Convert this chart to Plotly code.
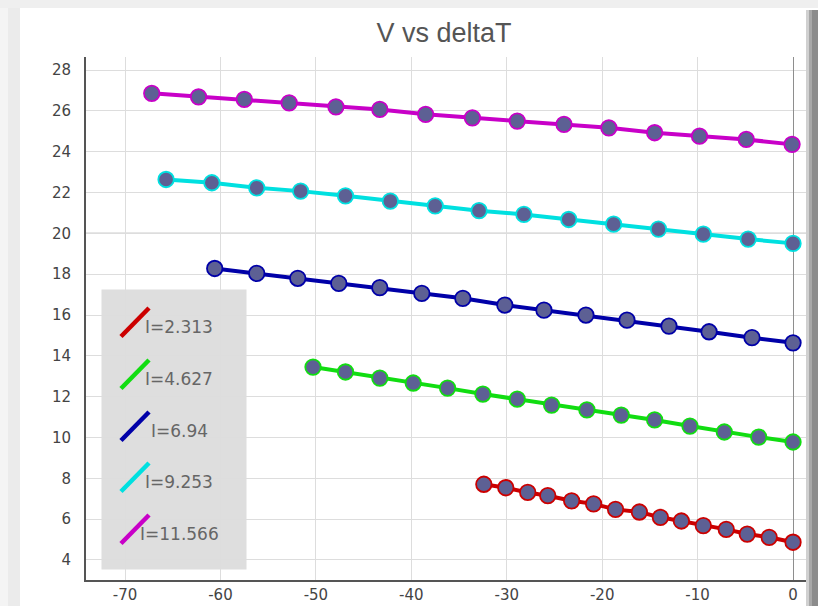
import plotly.graph_objects as go

# ---- data ----
series_names = ["I=2.313", "I=4.627", "I=6.94", "I=9.253", "I=11.566"]
series_colors = ["#cc0000", "#11dd11", "#0000a8", "#00e0e0", "#c800c8"]

x_i2313 = [-32.4, -30.1, -27.8, -25.7, -23.2, -20.9, -18.6, -16.1, -13.9, -11.7, -9.4, -7.0, -4.8, -2.5, 0.0]
v_i2313 = [7.71, 7.54, 7.31, 7.15, 6.90, 6.75, 6.48, 6.35, 6.09, 5.91, 5.68, 5.50, 5.27, 5.11, 4.87]

x_i4627 = [-50.3, -46.9, -43.3, -39.8, -36.2, -32.5, -28.9, -25.3, -21.6, -18.0, -14.5, -10.8, -7.2, -3.6, 0.0]
v_i4627 = [13.45, 13.21, 12.91, 12.67, 12.42, 12.13, 11.88, 11.59, 11.35, 11.10, 10.86, 10.56, 10.27, 10.02, 9.78]

x_i694 = [-60.6, -56.2, -51.9, -47.6, -43.3, -38.9, -34.6, -30.2, -26.1, -21.7, -17.4, -13.0, -8.8, -4.3, 0.0]
v_i694 = [18.28, 18.04, 17.80, 17.55, 17.34, 17.06, 16.82, 16.49, 16.24, 16.00, 15.75, 15.46, 15.18, 14.89, 14.64]

x_i9253 = [-65.7, -60.9, -56.2, -51.6, -46.9, -42.2, -37.5, -32.9, -28.2, -23.5, -18.8, -14.1, -9.4, -4.7, 0.0]
v_i9253 = [22.64, 22.48, 22.23, 22.07, 21.84, 21.58, 21.35, 21.11, 20.93, 20.68, 20.45, 20.21, 19.96, 19.72, 19.51]

x_i11566 = [-67.2, -62.3, -57.5, -52.8, -47.9, -43.3, -38.5, -33.6, -28.9, -24.0, -19.3, -14.5, -9.8, -4.9, -0.1]
v_i11566 = [26.86, 26.69, 26.56, 26.39, 26.20, 26.07, 25.83, 25.66, 25.50, 25.34, 25.17, 24.93, 24.76, 24.60, 24.36]

x_ticks = [-70, -60, -50, -40, -30, -20, -10, 0]
y_ticks = [4, 6, 8, 10, 12, 14, 16, 18, 20, 22, 24, 26, 28]

xs = [x_i2313, x_i4627, x_i694, x_i9253, x_i11566]
vs = [v_i2313, v_i4627, v_i694, v_i9253, v_i11566]

# ---- layout geometry (pixels) ----
W, H = 818, 606
L, R, T, B = 86, 806, 57, 580

def px(p):
    return (p - L) / (R - L)

def py(p):
    return (B - p) / (B - T)

fig = go.Figure()
for name, col, x, v in zip(series_names, series_colors, xs, vs):
    fig.add_trace(go.Scatter(
        x=x, y=v, name=name, mode="lines+markers",
        line=dict(color=col, width=4),
        marker=dict(size=15.5, color="#5d6094", line=dict(color=col, width=1.8)),
        showlegend=False,
    ))

shapes = []
# window frame / shadow
shapes.append(dict(type="rect", xref="paper", yref="paper", x0=px(0), x1=px(8), y0=py(620), y1=py(0),
                   fillcolor="#f4f4f4", line=dict(width=0), layer="below"))
shapes.append(dict(type="rect", xref="paper", yref="paper", x0=px(8), x1=px(20), y0=py(620), y1=py(0),
                   fillcolor="#ebebeb", line=dict(width=0), layer="below"))
shapes.append(dict(type="rect", xref="paper", yref="paper", x0=px(0), x1=px(W), y0=py(8), y1=py(0),
                   fillcolor="#efefef", line=dict(width=0), layer="below"))
for a, b, c in [(806, 809, "#d0d0d0"), (809, 812, "#a8a8a8"), (812, 818, "#8c8c8c")]:
    shapes.append(dict(type="rect", xref="paper", yref="paper", x0=px(a), x1=px(b), y0=py(620), y1=py(10),
                       fillcolor=c, line=dict(width=0), layer="above"))
# highlighted y=20 line
shapes.append(dict(type="line", xref="paper", yref="y", x0=0, x1=1, y0=20, y1=20,
                   line=dict(color="#9a9a9a", width=1.2), layer="between"))
# legend box
shapes.append(dict(type="rect", xref="paper", yref="paper", x0=px(101.5), x1=px(246.5), y0=py(569.5), y1=py(289.5),
                   fillcolor="rgba(185,185,185,0.48)", line=dict(width=0), layer="between"))

legend_y = [322, 374, 426, 477, 529]
annotations = []
for name, col, yc in zip(series_names, series_colors, legend_y):
    shapes.append(dict(type="line", xref="paper", yref="paper",
                       x0=px(121), y0=py(yc + 14.5), x1=px(149), y1=py(yc - 14),
                       line=dict(color=col, width=4.5), layer="above"))
    annotations.append(dict(text=name, xref="paper", yref="paper", x=px(179), y=py(yc + 5),
                            xanchor="center", yanchor="middle", showarrow=False,
                            font=dict(family="DejaVu Sans", size=17, color="#666666")))

fig.update_layout(
    width=W, height=H, autosize=False,
    margin=dict(l=L, r=W - R, t=T, b=H - B, pad=0),
    paper_bgcolor="white", plot_bgcolor="white",
    title=dict(text="V vs deltaT", xref="container", x=444 / W, xanchor="center",
               yref="container", y=1 - 33 / H, yanchor="middle",
               font=dict(family="Liberation Sans", size=27, color="#555555")),
    shapes=shapes, annotations=annotations,
    showlegend=False,
)
fig.update_xaxes(range=[-74.09, 1.36], tickvals=x_ticks, ticktext=[str(t) for t in x_ticks],
                 showgrid=True, gridcolor="#dddddd", gridwidth=1,
                 zeroline=True, zerolinecolor="#8e8e8e", zerolinewidth=1.2,
                 showline=True, linecolor="#555555", linewidth=2, ticks="",
                 ticklabelstandoff=0, automargin=False,
                 tickfont=dict(family="DejaVu Sans", size=15, color="#444444"))
fig.update_yaxes(range=[3.02, 28.64], tickvals=y_ticks, ticktext=[str(t) for t in y_ticks],
                 showgrid=True, gridcolor="#dddddd", gridwidth=1, zeroline=False,
                 showline=True, linecolor="#555555", linewidth=2, ticks="",
                 ticklabelstandoff=10, automargin=False,
                 tickfont=dict(family="DejaVu Sans", size=15, color="#444444"))

fig.write_html("out.html",
               config={"displayModeBar": False, "responsive": False},
               post_script="document.body.style.margin='0';document.body.style.overflow='hidden';")
